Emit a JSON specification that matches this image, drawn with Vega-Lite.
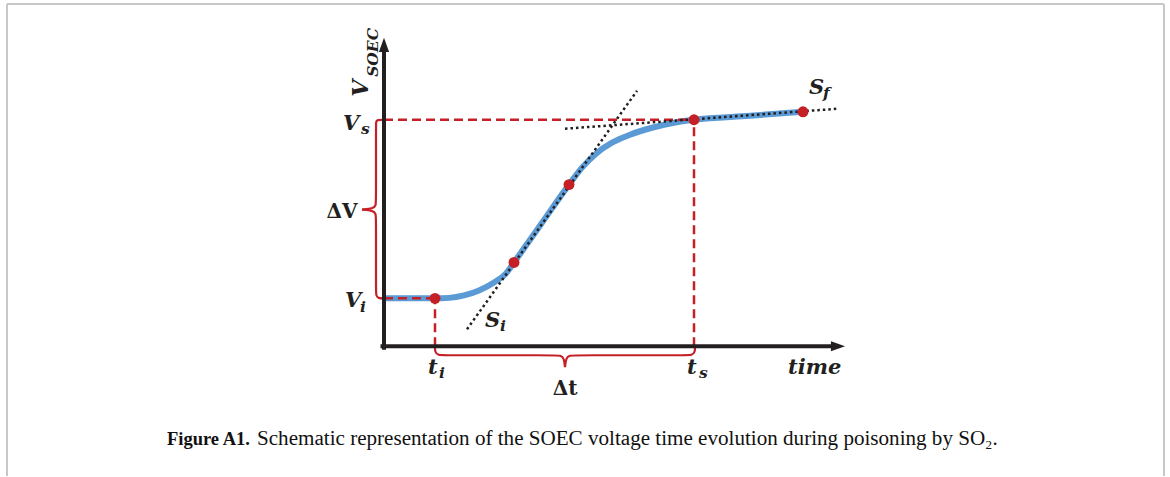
{
  "$schema": "https://vega.github.io/schema/vega-lite/v6.json",
  "width": 1170,
  "height": 477,
  "autosize": {"type": "fit", "contains": "padding"},
  "padding": 0,
  "background": "white",
  "config": {"view": {"stroke": null}},
  "datasets": {
    "border": [
      {"x": -37.7, "y": 34.3, "x2": 78.0, "y2": 34.3},
      {"x": -37.7, "y": 34.3, "x2": -37.7, "y2": -13.0},
      {"x": 78.0, "y": 34.3, "x2": 78.0, "y2": -13.0}
    ],
    "axes": [
      {"x": 0, "y": -0.15, "x2": 0, "y2": 29.6},
      {"x": -0.15, "y": 0, "x2": 45.0, "y2": 0}
    ],
    "arrowUp": [{"x": 0, "y": 30.2}],
    "arrowRight": [{"x": 45.4, "y": 0}],
    "dash": [
      {"x": 0, "y": 22.7, "x2": 31.0, "y2": 22.7},
      {"x": 31.0, "y": 0, "x2": 31.0, "y2": 22.7},
      {"x": 0, "y": 4.8, "x2": 5.1, "y2": 4.8},
      {"x": 5.1, "y": 0, "x2": 5.1, "y2": 4.8}
    ],
    "curve": [
      {"x": 0, "y": 4.8}, {"x": 5.1, "y": 4.8}, {"x": 6.5, "y": 4.85},
      {"x": 8.0, "y": 5.1}, {"x": 9.5, "y": 5.6}, {"x": 11.0, "y": 6.4},
      {"x": 12.2, "y": 7.3}, {"x": 13.0, "y": 8.4}, {"x": 15.75, "y": 12.3},
      {"x": 18.5, "y": 16.2}, {"x": 19.8, "y": 17.9}, {"x": 21.2, "y": 19.3},
      {"x": 22.8, "y": 20.4}, {"x": 24.6, "y": 21.2}, {"x": 26.8, "y": 21.9},
      {"x": 29.0, "y": 22.4}, {"x": 31.0, "y": 22.7}, {"x": 36.6, "y": 23.1},
      {"x": 41.9, "y": 23.5}
    ],
    "dots": [
      {"x": 8.3, "y": 1.7, "x2": 25.3, "y2": 25.6},
      {"x": 18.1, "y": 21.8, "x2": 45.3, "y2": 23.8}
    ],
    "pts": [
      {"x": 5.1, "y": 4.8}, {"x": 13.0, "y": 8.4}, {"x": 18.5, "y": 16.2},
      {"x": 31.0, "y": 22.7}, {"x": 41.9, "y": 23.5}
    ],
    "braces": [
      {"g": "v1", "i": 0, "x": 0, "y": 22.7},
      {"g": "v1", "i": 1, "x": -0.7, "y": 22.7},
      {"g": "v1", "i": 2, "x": -0.8, "y": 22.5},
      {"g": "v1", "i": 3, "x": -0.8, "y": 21.9},
      {"g": "v1", "i": 4, "x": -0.8, "y": 14.7},
      {"g": "v1", "i": 5, "x": -0.8, "y": 14.1},
      {"g": "v1", "i": 6, "x": -1.1, "y": 13.8},
      {"g": "v1", "i": 7, "x": -2.2, "y": 13.7},
      {"g": "v2", "i": 0, "x": -2.2, "y": 13.7},
      {"g": "v2", "i": 1, "x": -1.1, "y": 13.6},
      {"g": "v2", "i": 2, "x": -0.8, "y": 13.3},
      {"g": "v2", "i": 3, "x": -0.8, "y": 12.7},
      {"g": "v2", "i": 4, "x": -0.8, "y": 5.7},
      {"g": "v2", "i": 5, "x": -0.8, "y": 5.1},
      {"g": "v2", "i": 6, "x": -0.6, "y": 4.8},
      {"g": "v2", "i": 7, "x": 0, "y": 4.8},
      {"g": "t1", "i": 0, "x": 5.1, "y": 0},
      {"g": "t1", "i": 1, "x": 5.1, "y": -0.6},
      {"g": "t1", "i": 2, "x": 5.4, "y": -0.9},
      {"g": "t1", "i": 3, "x": 6.1, "y": -0.9},
      {"g": "t1", "i": 4, "x": 16.9, "y": -0.9},
      {"g": "t1", "i": 5, "x": 17.7, "y": -0.9},
      {"g": "t1", "i": 6, "x": 18.0, "y": -1.2},
      {"g": "t1", "i": 7, "x": 18.1, "y": -2.1},
      {"g": "t2", "i": 0, "x": 18.1, "y": -2.1},
      {"g": "t2", "i": 1, "x": 18.2, "y": -1.2},
      {"g": "t2", "i": 2, "x": 18.5, "y": -0.9},
      {"g": "t2", "i": 3, "x": 19.3, "y": -0.9},
      {"g": "t2", "i": 4, "x": 30.1, "y": -0.9},
      {"g": "t2", "i": 5, "x": 30.8, "y": -0.9},
      {"g": "t2", "i": 6, "x": 31.1, "y": -0.6},
      {"g": "t2", "i": 7, "x": 31.1, "y": 0}
    ],
    "mainLabels": [
      {"t": "V", "x": -4.1, "y": 21.7},
      {"t": "V", "x": -3.9, "y": 3.9},
      {"t": "t", "x": 4.4, "y": -2.8},
      {"t": "t", "x": 30.3, "y": -2.8},
      {"t": "time", "x": 40.4, "y": -2.8},
      {"t": "S", "x": 10.1, "y": 1.9},
      {"t": "S", "x": 42.5, "y": 25.3}
    ],
    "subLabels": [
      {"t": "s", "x": -2.3, "y": 21.3},
      {"t": "i", "x": -2.4, "y": 3.4},
      {"t": "i", "x": 5.5, "y": -3.2},
      {"t": "s", "x": 31.5, "y": -3.2},
      {"t": "i", "x": 11.6, "y": 1.5},
      {"t": "f", "x": 43.9, "y": 24.9}
    ],
    "rotMain": [{"t": "V", "x": -1.6, "y": 25.0}],
    "rotSub": [{"t": "SOEC", "x": -0.65, "y": 27.0}],
    "deltas": [
      {"t": "ΔV", "x": -4.2, "y": 12.9},
      {"t": "Δt", "x": 18.1, "y": -4.9}
    ],
    "capBold": [{"t": "Figure A1.", "x": -21.7, "y": -9.9}],
    "capReg": [{"t": "Schematic representation of the SOEC voltage time evolution during poisoning by SO", "x": -12.7, "y": -9.9}],
    "capSub": [{"t": "2", "x": 60.15, "y": -10.3}],
    "capDot": [{"t": ".", "x": 60.85, "y": -9.9}]
  },
  "layer": [
    {
      "data": {"name": "border"},
      "mark": {"type": "rule", "color": "#c8c8c8", "strokeWidth": 2},
      "encoding": {
        "x": {"field": "x", "type": "quantitative", "scale": {"domain": [-38.4, 78.6], "nice": false, "zero": false}, "axis": null},
        "y": {"field": "y", "type": "quantitative", "scale": {"domain": [-13, 34.7], "nice": false, "zero": false}, "axis": null},
        "x2": {"field": "x2"},
        "y2": {"field": "y2"}
      }
    },
    {
      "data": {"name": "curve"},
      "mark": {"type": "line", "color": "#5b9bd5", "strokeWidth": 6, "interpolate": "monotone", "strokeCap": "butt"},
      "encoding": {
        "x": {"field": "x", "type": "quantitative", "scale": {"domain": [-38.4, 78.6], "nice": false, "zero": false}, "axis": null},
        "y": {"field": "y", "type": "quantitative", "scale": {"domain": [-13, 34.7], "nice": false, "zero": false}, "axis": null}
      }
    },
    {
      "data": {"name": "dash"},
      "mark": {"type": "rule", "color": "#c42026", "strokeWidth": 2.5, "strokeDash": [9, 5]},
      "encoding": {
        "x": {"field": "x", "type": "quantitative", "scale": {"domain": [-38.4, 78.6], "nice": false, "zero": false}, "axis": null},
        "y": {"field": "y", "type": "quantitative", "scale": {"domain": [-13, 34.7], "nice": false, "zero": false}, "axis": null},
        "x2": {"field": "x2"},
        "y2": {"field": "y2"}
      }
    },
    {
      "data": {"name": "dots"},
      "mark": {"type": "rule", "color": "#231f20", "strokeWidth": 2.5, "strokeDash": [2.5, 3]},
      "encoding": {
        "x": {"field": "x", "type": "quantitative", "scale": {"domain": [-38.4, 78.6], "nice": false, "zero": false}, "axis": null},
        "y": {"field": "y", "type": "quantitative", "scale": {"domain": [-13, 34.7], "nice": false, "zero": false}, "axis": null},
        "x2": {"field": "x2"},
        "y2": {"field": "y2"}
      }
    },
    {
      "data": {"name": "braces"},
      "mark": {"type": "line", "color": "#c42026", "strokeWidth": 2.2, "interpolate": "basis"},
      "encoding": {
        "x": {"field": "x", "type": "quantitative", "scale": {"domain": [-38.4, 78.6], "nice": false, "zero": false}, "axis": null},
        "y": {"field": "y", "type": "quantitative", "scale": {"domain": [-13, 34.7], "nice": false, "zero": false}, "axis": null},
        "detail": {"field": "g"},
        "order": {"field": "i", "type": "quantitative"}
      }
    },
    {
      "data": {"name": "axes"},
      "mark": {"type": "rule", "color": "#231f20", "strokeWidth": 4, "strokeCap": "square"},
      "encoding": {
        "x": {"field": "x", "type": "quantitative", "scale": {"domain": [-38.4, 78.6], "nice": false, "zero": false}, "axis": null},
        "y": {"field": "y", "type": "quantitative", "scale": {"domain": [-13, 34.7], "nice": false, "zero": false}, "axis": null},
        "x2": {"field": "x2"},
        "y2": {"field": "y2"}
      }
    },
    {
      "data": {"name": "arrowUp"},
      "mark": {"type": "point", "shape": "M0,-1L0.72,1L-0.72,1Z", "size": 200, "filled": true, "color": "#231f20", "opacity": 1},
      "encoding": {
        "x": {"field": "x", "type": "quantitative", "scale": {"domain": [-38.4, 78.6], "nice": false, "zero": false}, "axis": null},
        "y": {"field": "y", "type": "quantitative", "scale": {"domain": [-13, 34.7], "nice": false, "zero": false}, "axis": null}
      }
    },
    {
      "data": {"name": "arrowRight"},
      "mark": {"type": "point", "shape": "M1,0L-1,-0.72L-1,0.72Z", "size": 200, "filled": true, "color": "#231f20", "opacity": 1},
      "encoding": {
        "x": {"field": "x", "type": "quantitative", "scale": {"domain": [-38.4, 78.6], "nice": false, "zero": false}, "axis": null},
        "y": {"field": "y", "type": "quantitative", "scale": {"domain": [-13, 34.7], "nice": false, "zero": false}, "axis": null}
      }
    },
    {
      "data": {"name": "pts"},
      "mark": {"type": "circle", "color": "#c42026", "size": 120, "opacity": 1},
      "encoding": {
        "x": {"field": "x", "type": "quantitative", "scale": {"domain": [-38.4, 78.6], "nice": false, "zero": false}, "axis": null},
        "y": {"field": "y", "type": "quantitative", "scale": {"domain": [-13, 34.7], "nice": false, "zero": false}, "axis": null}
      }
    },
    {
      "data": {"name": "mainLabels"},
      "mark": {"type": "text", "font": "DejaVu Serif", "fontWeight": "bold", "fontStyle": "italic", "fontSize": 21, "align": "left", "baseline": "alphabetic", "color": "#231f20"},
      "encoding": {
        "x": {"field": "x", "type": "quantitative", "scale": {"domain": [-38.4, 78.6], "nice": false, "zero": false}, "axis": null},
        "y": {"field": "y", "type": "quantitative", "scale": {"domain": [-13, 34.7], "nice": false, "zero": false}, "axis": null},
        "text": {"field": "t"}
      }
    },
    {
      "data": {"name": "subLabels"},
      "mark": {"type": "text", "font": "DejaVu Serif", "fontWeight": "bold", "fontStyle": "italic", "fontSize": 15.5, "align": "left", "baseline": "alphabetic", "color": "#231f20"},
      "encoding": {
        "x": {"field": "x", "type": "quantitative", "scale": {"domain": [-38.4, 78.6], "nice": false, "zero": false}, "axis": null},
        "y": {"field": "y", "type": "quantitative", "scale": {"domain": [-13, 34.7], "nice": false, "zero": false}, "axis": null},
        "text": {"field": "t"}
      }
    },
    {
      "data": {"name": "rotMain"},
      "mark": {"type": "text", "font": "DejaVu Serif", "fontWeight": "bold", "fontStyle": "italic", "fontSize": 22, "align": "left", "baseline": "alphabetic", "angle": 270, "color": "#231f20"},
      "encoding": {
        "x": {"field": "x", "type": "quantitative", "scale": {"domain": [-38.4, 78.6], "nice": false, "zero": false}, "axis": null},
        "y": {"field": "y", "type": "quantitative", "scale": {"domain": [-13, 34.7], "nice": false, "zero": false}, "axis": null},
        "text": {"field": "t"}
      }
    },
    {
      "data": {"name": "rotSub"},
      "mark": {"type": "text", "font": "DejaVu Serif", "fontWeight": "bold", "fontStyle": "italic", "fontSize": 15.5, "align": "left", "baseline": "alphabetic", "angle": 270, "color": "#231f20"},
      "encoding": {
        "x": {"field": "x", "type": "quantitative", "scale": {"domain": [-38.4, 78.6], "nice": false, "zero": false}, "axis": null},
        "y": {"field": "y", "type": "quantitative", "scale": {"domain": [-13, 34.7], "nice": false, "zero": false}, "axis": null},
        "text": {"field": "t"}
      }
    },
    {
      "data": {"name": "deltas"},
      "mark": {"type": "text", "font": "DejaVu Serif", "fontWeight": "bold", "fontSize": 20, "align": "center", "baseline": "alphabetic", "color": "#231f20"},
      "encoding": {
        "x": {"field": "x", "type": "quantitative", "scale": {"domain": [-38.4, 78.6], "nice": false, "zero": false}, "axis": null},
        "y": {"field": "y", "type": "quantitative", "scale": {"domain": [-13, 34.7], "nice": false, "zero": false}, "axis": null},
        "text": {"field": "t"}
      }
    },
    {
      "data": {"name": "capBold"},
      "mark": {"type": "text", "font": "Liberation Serif", "fontWeight": "bold", "fontSize": 18.5, "align": "left", "baseline": "alphabetic", "color": "#111111"},
      "encoding": {
        "x": {"field": "x", "type": "quantitative", "scale": {"domain": [-38.4, 78.6], "nice": false, "zero": false}, "axis": null},
        "y": {"field": "y", "type": "quantitative", "scale": {"domain": [-13, 34.7], "nice": false, "zero": false}, "axis": null},
        "text": {"field": "t"}
      }
    },
    {
      "data": {"name": "capReg"},
      "mark": {"type": "text", "font": "Liberation Serif", "fontSize": 21.1, "align": "left", "baseline": "alphabetic", "color": "#111111"},
      "encoding": {
        "x": {"field": "x", "type": "quantitative", "scale": {"domain": [-38.4, 78.6], "nice": false, "zero": false}, "axis": null},
        "y": {"field": "y", "type": "quantitative", "scale": {"domain": [-13, 34.7], "nice": false, "zero": false}, "axis": null},
        "text": {"field": "t"}
      }
    },
    {
      "data": {"name": "capSub"},
      "mark": {"type": "text", "font": "Liberation Serif", "fontSize": 13, "align": "left", "baseline": "alphabetic", "color": "#111111"},
      "encoding": {
        "x": {"field": "x", "type": "quantitative", "scale": {"domain": [-38.4, 78.6], "nice": false, "zero": false}, "axis": null},
        "y": {"field": "y", "type": "quantitative", "scale": {"domain": [-13, 34.7], "nice": false, "zero": false}, "axis": null},
        "text": {"field": "t"}
      }
    },
    {
      "data": {"name": "capDot"},
      "mark": {"type": "text", "font": "Liberation Serif", "fontSize": 21, "align": "left", "baseline": "alphabetic", "color": "#111111"},
      "encoding": {
        "x": {"field": "x", "type": "quantitative", "scale": {"domain": [-38.4, 78.6], "nice": false, "zero": false}, "axis": null},
        "y": {"field": "y", "type": "quantitative", "scale": {"domain": [-13, 34.7], "nice": false, "zero": false}, "axis": null},
        "text": {"field": "t"}
      }
    }
  ]
}
